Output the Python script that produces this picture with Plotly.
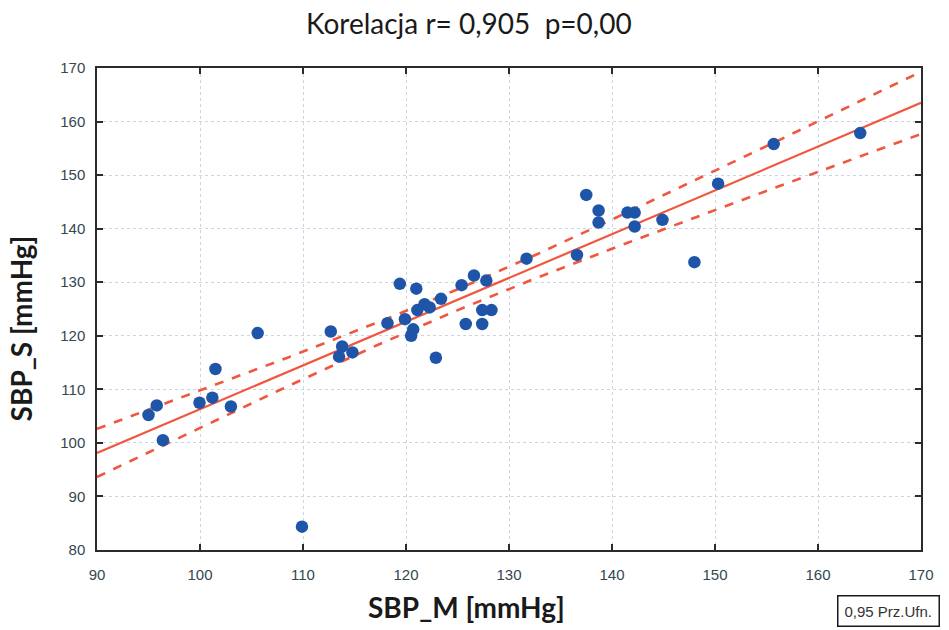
import numpy as np
import plotly.graph_objects as go

# SBP measured two ways: SBP_M (x) vs SBP_S (y), mmHg
sbp_m = [95.0, 95.8, 96.4, 99.95, 101.2, 101.5, 103.0, 105.6, 109.9, 112.7,
         113.8, 113.5, 114.8, 118.2, 119.4, 119.9, 120.5, 120.7, 121.0, 121.1,
         121.8, 122.3, 122.9, 123.4, 125.4, 125.8, 126.6, 127.4, 127.4, 127.8,
         128.3, 131.7, 136.6, 137.5, 138.7, 138.7, 141.5, 142.2, 142.2, 144.9,
         148.0, 150.3, 155.7, 164.1]
sbp_s = [105.2, 107.0, 100.5, 107.5, 108.45, 113.8, 106.8, 120.5, 84.35, 120.8,
         118.0, 116.1, 116.9, 122.35, 129.7, 123.1, 120.0, 121.2, 128.8, 124.8,
         125.9, 125.3, 115.9, 126.9, 129.45, 122.2, 131.25, 124.8, 122.2, 130.3,
         124.8, 134.4, 135.1, 146.3, 143.4, 141.15, 143.0, 143.0, 140.4, 141.65,
         133.75, 148.4, 155.8, 157.85]

x_ticks = [90, 100, 110, 120, 130, 140, 150, 160, 170]
y_ticks = [80, 90, 100, 110, 120, 130, 140, 150, 160, 170]

title_text = "Korelacja r= 0,905  p=0,00"
x_title = "SBP_M [mmHg]"
y_title = "SBP_S [mmHg]"
band_label = "0,95 Prz.Ufn."

# Least-squares fit and 95% confidence band for the mean
x = np.array(sbp_m)
y = np.array(sbp_s)
n = len(x)
slope, intercept = np.polyfit(x, y, 1)
resid = y - (intercept + slope * x)
s = np.sqrt(np.sum(resid ** 2) / (n - 2))
sxx = np.sum((x - x.mean()) ** 2)
t_crit = 2.018  # t(0.975, n-2)
xf = np.linspace(90, 170, 200)
yf = intercept + slope * xf
half = t_crit * s * np.sqrt(1.0 / n + (xf - x.mean()) ** 2 / sxx)

RED = "#f0573e"
BLUE = "#1f55a8"
TICK_GREY = "#34474f"

fig = go.Figure()
fig.add_trace(go.Scatter(x=xf, y=yf + half, mode="lines",
                         line=dict(color=RED, width=2.6, dash="dash"),
                         hoverinfo="skip"))
fig.add_trace(go.Scatter(x=xf, y=yf - half, mode="lines",
                         line=dict(color=RED, width=2.6, dash="dash"),
                         hoverinfo="skip"))
fig.add_trace(go.Scatter(x=xf, y=yf, mode="lines",
                         line=dict(color=RED, width=2.2),
                         hoverinfo="skip"))
fig.add_trace(go.Scatter(x=sbp_m, y=sbp_s, mode="markers",
                         marker=dict(color=BLUE, size=12.5)))

axis_common = dict(
    showline=True, linecolor="#2b2b2b", linewidth=1.5, mirror="ticks",
    ticks="inside", ticklen=6, tickwidth=1.5, tickcolor="#2b2b2b",
    showgrid=True, gridcolor="#c9d6e3", griddash="dot", gridwidth=1,
    zeroline=False,
    tickfont=dict(family="Liberation Sans, Arial", size=15, color=TICK_GREY),
)

fig.update_layout(
    width=949, height=630,
    margin=dict(l=97, r=28, t=68, b=80),
    paper_bgcolor="white", plot_bgcolor="white",
    showlegend=False,
    title=dict(text=title_text, xref="container", x=0.494, xanchor="center",
               y=0.962, yanchor="middle",
               font=dict(family="Lato, Open Sans", size=28, color="#1a1a1a")),
    xaxis=dict(range=[90, 170], tickvals=x_ticks, ticklabelstandoff=10,
               **axis_common),
    yaxis=dict(range=[80, 170], tickvals=y_ticks, ticklabelstandoff=7,
               **axis_common),
)

title_font = dict(family="Lato, Open Sans", size=28, color="#1a1a1a", weight="bold")
fig.add_annotation(text=x_title, xref="paper", yref="paper", x=0.4484, y=-0.118,
                   xanchor="center", yanchor="middle", showarrow=False,
                   font=title_font)
fig.add_annotation(text=y_title, xref="paper", yref="paper", x=-0.0928, y=0.4588,
                   xanchor="center", yanchor="middle", showarrow=False,
                   textangle=-90, font=title_font)

fig.add_annotation(
    text=band_label, xref="paper", yref="paper", x=0.9606, y=-0.1266,
    xanchor="center", yanchor="middle", showarrow=False,
    font=dict(family="Liberation Sans, Arial", size=15, color="#333333"),
    bordercolor="#1a1a1a", borderwidth=1.5, borderpad=6, bgcolor="white",
)

fig.write_html("out.html")
